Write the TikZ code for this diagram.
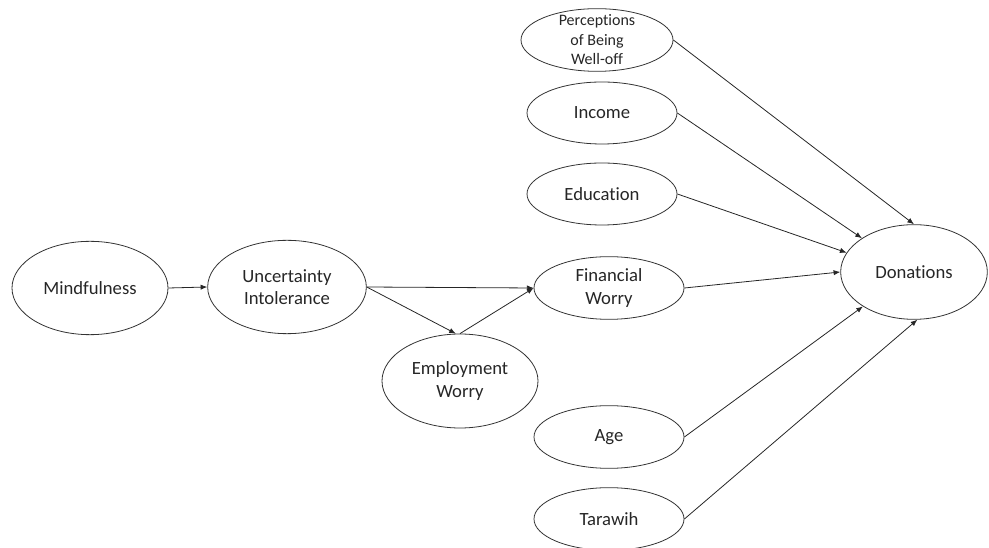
\documentclass[tikz,border=0pt]{standalone}
\usepackage{fontspec}
\setmainfont{Carlito}[Ligatures={NoCommon}]
\usetikzlibrary{shapes.geometric,arrows.meta}
\begin{document}
\begin{tikzpicture}[x=0.75pt,y=-0.75pt,
  var/.style={ellipse,draw=black!80,line width=0.6pt,inner sep=0pt,align=center,
    font=\fontsize{14}{17}\selectfont,text=black!85},
  arr/.style={draw=black!85,line width=0.6pt,-{Latex[length=5pt,width=4pt]}}]
\useasboundingbox (0,0) rectangle (989,548);
\node[var,minimum width=117pt,minimum height=70pt] (mind) at (90,288) {Mindfulness};
\node[var,minimum width=119pt,minimum height=70pt] (ui) at (287,287) {Uncertainty\\Intolerance};
\node[var,minimum width=112.5pt,minimum height=47pt] (fw) at (609,288) {Financial\\Worry};
\node[var,minimum width=117pt,minimum height=70.5pt] (ew) at (460,381) {Employment\\Worry};
\node[var,minimum width=114pt,minimum height=47pt,inner ysep=-8pt,font=\fontsize{12}{14.6}\selectfont] (perc) at (597,40) {Perceptions\\of Being\\Well-off};
\node[var,minimum width=112.5pt,minimum height=46.5pt] (inc) at (602,113) {Income};
\node[var,minimum width=112.5pt,minimum height=46.5pt] (edu) at (602,194) {Education};
\node[var,minimum width=112.5pt,minimum height=47pt] (age) at (609,437) {Age};
\node[var,minimum width=112.5pt,minimum height=47pt] (tar) at (609,519) {Tarawih};
\node[var,minimum width=110pt,minimum height=71pt] (don) at (914,272) {Donations};
\draw[arr] (mind.east) -- (ui.west);
\draw[arr] (ui.east) -- (fw.west);
\draw[arr] (ui.east) -- (ew.95);
\draw[arr] (ew.north) -- (fw.west);
\draw[arr] (perc.east) -- (don.90);
\draw[arr] (inc.east) -- (don.147);
\draw[arr] (edu.east) -- (don.164);
\draw[arr] (fw.east) -- (don.west);
\draw[arr] (age.east) -- (don.214);
\draw[arr] (tar.east) -- (don.274);
\end{tikzpicture}
\end{document}
